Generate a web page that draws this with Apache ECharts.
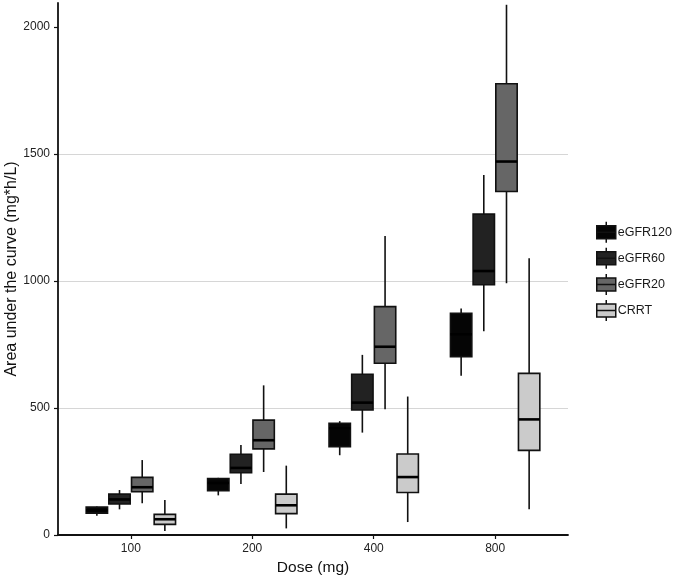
<!DOCTYPE html>
<html>
<head>
<meta charset="utf-8">
<script src="https://cdn.jsdelivr.net/npm/echarts@6/dist/echarts.min.js"></script>
<style>
html,body{margin:0;padding:0;background:#fff}
#chart{width:675px;height:579px}
</style>
</head>
<body>
<div id="chart"></div>
<script>
var doses = ['100', '200', '400', '800'];
var groups = ['eGFR120', 'eGFR60', 'eGFR20', 'CRRT'];
// each row: [low whisker, q1, median, q3, high whisker] for one dose
var egfr120 = [[76, 86, 97, 110, 112], [156, 174, 205, 222, 225], [314, 348, 420, 440, 448], [627, 702, 790, 873, 892]];
var egfr60 = [[101, 122, 140, 161, 177], [201, 245, 264, 318, 354], [403, 492, 521, 633, 709], [802, 985, 1039, 1263, 1417]];
var egfr20 = [[125, 170, 188, 227, 295], [248, 339, 373, 452, 589], [495, 676, 741, 899, 1177], [991, 1352, 1470, 1776, 2087]];
var crrt = [[16, 42, 62, 81, 138], [26, 84, 117, 161, 273], [51, 167, 228, 319, 545], [101, 333, 455, 636, 1089]];
var yTicks = [0, 500, 1000, 1500, 2000];

var allData = [egfr120, egfr60, egfr20, crrt];
var fills = ['#050505', '#222222', '#666666', '#cbcbcb'];
var offsets = [-0.28, -0.0935, 0.0935, 0.28];
var halfW = 0.088;

var chart = echarts.init(document.getElementById('chart'));

function makeRender(offset, fill) {
    return function (params, api) {
        var x = api.value(0) + offset;
        var pLow = api.coord([x, api.value(1)]);
        var pQ1 = api.coord([x, api.value(2)]);
        var pMed = api.coord([x, api.value(3)]);
        var pQ3 = api.coord([x, api.value(4)]);
        var pHigh = api.coord([x, api.value(5)]);
        var left = api.coord([x - halfW, 0])[0];
        var right = api.coord([x + halfW, 0])[0];
        var cx = pMed[0];
        return {
            type: 'group',
            children: [
                {type: 'line', shape: {x1: cx, y1: pHigh[1], x2: cx, y2: pQ3[1]}, style: {stroke: '#111', lineWidth: 1.6}},
                {type: 'line', shape: {x1: cx, y1: pQ1[1], x2: cx, y2: pLow[1]}, style: {stroke: '#111', lineWidth: 1.6}},
                {type: 'rect', shape: {x: left, y: pQ3[1], width: right - left, height: pQ1[1] - pQ3[1]},
                    style: {fill: fill, stroke: '#111', lineWidth: 1.6}},
                {type: 'line', shape: {x1: left, y1: pMed[1], x2: right, y2: pMed[1]}, style: {stroke: '#000', lineWidth: 2.6}}
            ]
        };
    };
}

var series = [];
var legendData = [];
var keyIcon = 'path://M0,4 L19,4 L19,17 L0,17 Z M9.5,0 L9.5,4 M9.5,17 L9.5,21 M0,10.5 L19,10.5';
groups.forEach(function (g, k) {
    var rows = allData[k].map(function (r, i) {
        return [i + 1, r[0], r[1], r[2], r[3], r[4]];
    });
    series.push({
        name: g,
        type: 'custom',
        renderItem: makeRender(offsets[k], fills[k]),
        itemStyle: {color: fills[k]},
        encode: {x: 0, y: [1, 2, 3, 4, 5]},
        data: rows
    });
    legendData.push({name: g, icon: keyIcon, itemStyle: {color: fills[k], borderColor: '#111', borderWidth: 1.5}});
});

var option = {
    backgroundColor: '#fff',
    animation: false,
    textStyle: {fontFamily: 'Liberation Sans, Arial, sans-serif'},
    grid: {left: 58, right: 107, top: 3, bottom: 44, outerBoundsMode: 'none', containLabel: false},
    legend: {
        orient: 'vertical',
        left: 596,
        top: 221,
        padding: 0,
        itemWidth: 19,
        itemHeight: 21,
        itemGap: 3.6,
        selectedMode: false,
        textStyle: {fontSize: 12.5, color: '#1a1a1a', padding: [0, 0, 0, -3]},
        data: legendData
    },
    xAxis: {
        type: 'value',
        min: 0.4,
        max: 4.6,
        name: 'Dose (mg)',
        nameLocation: 'middle',
        nameGap: 21,
        nameTextStyle: {fontSize: 15.5, color: '#111'},
        axisLine: {show: true, lineStyle: {color: '#111', width: 1.8}},
        axisTick: {show: true, length: 4, customValues: [1, 2, 3, 4], lineStyle: {color: '#111', width: 1.2}},
        axisLabel: {
            customValues: [1, 2, 3, 4],
            fontSize: 12, color: '#222', margin: 8,
            formatter: function (v) { return doses[Math.round(v) - 1]; }
        },
        splitLine: {show: false}
    },
    yAxis: {
        type: 'value',
        min: 0,
        max: 2094,
        interval: 500,
        name: 'Area under the curve (mg*h/L)',
        nameLocation: 'middle',
        nameMoveOverlap: false,
        nameGap: 38,
        nameTextStyle: {fontSize: 16, color: '#111'},
        axisLine: {show: true, lineStyle: {color: '#111', width: 1.8}},
        axisTick: {show: true, length: 4, customValues: yTicks, lineStyle: {color: '#111', width: 1.2}},
        axisLabel: {customValues: yTicks, fontSize: 12, color: '#222', margin: 8,
            formatter: function (v) { return String(v); }},
        splitLine: {show: true, showMinLine: false, showMaxLine: false, lineStyle: {color: '#d6d6d6', width: 1}}
    },
    series: series
};

chart.setOption(option);
</script>
</body>
</html>
